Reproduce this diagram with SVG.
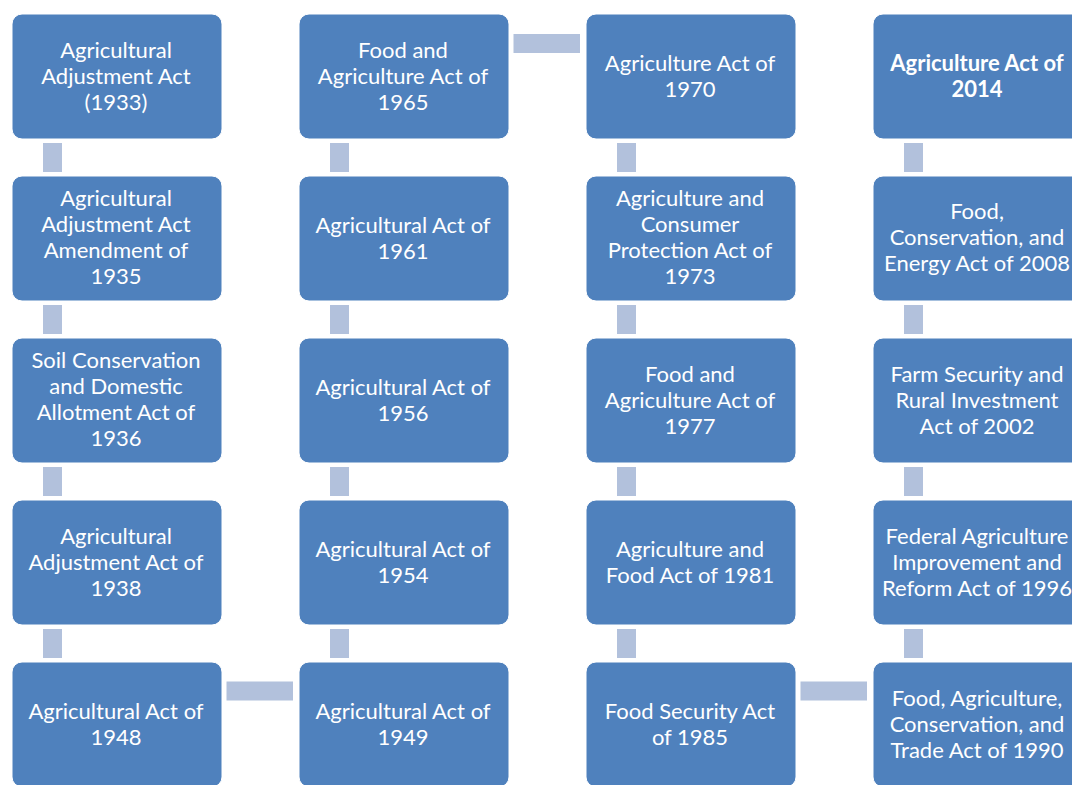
<svg xmlns="http://www.w3.org/2000/svg" width="1072" height="785" viewBox="0 0 1072 785">
<style>
.box{fill:#4F81BD;stroke:#FFFFFF;stroke-width:1}
.con{fill:#B2C1DC}
text{font-family:Lato,"Liberation Sans",sans-serif;font-size:22px;fill:#FFFFFF;text-anchor:middle}
.b{font-weight:bold}
</style>
<rect width="1072" height="785" fill="#FFFFFF"/>
<g id="connectors">
<rect class="con" x="43" y="143" width="19" height="29"/>
<rect class="con" x="43" y="305" width="19" height="29"/>
<rect class="con" x="43" y="467" width="19" height="29"/>
<rect class="con" x="43" y="629" width="19" height="29"/>
<rect class="con" x="330" y="143" width="19" height="29"/>
<rect class="con" x="330" y="305" width="19" height="29"/>
<rect class="con" x="330" y="467" width="19" height="29"/>
<rect class="con" x="330" y="629" width="19" height="29"/>
<rect class="con" x="617" y="143" width="19" height="29"/>
<rect class="con" x="617" y="305" width="19" height="29"/>
<rect class="con" x="617" y="467" width="19" height="29"/>
<rect class="con" x="617" y="629" width="19" height="29"/>
<rect class="con" x="904" y="143" width="19" height="29"/>
<rect class="con" x="904" y="305" width="19" height="29"/>
<rect class="con" x="904" y="467" width="19" height="29"/>
<rect class="con" x="904" y="629" width="19" height="29"/>
<rect class="con" x="226.5" y="681.5" width="66.5" height="19"/>
<rect class="con" x="513.5" y="34" width="66.5" height="19"/>
<rect class="con" x="800.5" y="681.5" width="66.5" height="19"/>
</g>
<g id="n1933"><rect class="box" x="12" y="14" width="210" height="125" rx="10"/><text x="116" y="58">Agricultural</text><text x="116" y="84">Adjustment Act</text><text x="116" y="110">(1933)</text></g>
<g id="n1935"><rect class="box" x="12" y="176" width="210" height="125" rx="10"/><text x="116" y="206">Agricultural</text><text x="116" y="232">Adjustment Act</text><text x="116" y="258">Amendment of</text><text x="116" y="284">1935</text></g>
<g id="n1936"><rect class="box" x="12" y="338" width="210" height="125" rx="10"/><text x="116" y="368">Soil Conservation</text><text x="116" y="394">and Domestic</text><text x="116" y="420">Allotment Act of</text><text x="116" y="446">1936</text></g>
<g id="n1938"><rect class="box" x="12" y="500" width="210" height="125" rx="10"/><text x="116" y="544">Agricultural</text><text x="116" y="570">Adjustment Act of</text><text x="116" y="596">1938</text></g>
<g id="n1948"><rect class="box" x="12" y="662" width="210" height="125" rx="10"/><text x="116" y="719">Agricultural Act of</text><text x="116" y="745">1948</text></g>
<g id="n1965"><rect class="box" x="299" y="14" width="210" height="125" rx="10"/><text x="403" y="58">Food and</text><text x="403" y="84">Agriculture Act of</text><text x="403" y="110">1965</text></g>
<g id="n1961"><rect class="box" x="299" y="176" width="210" height="125" rx="10"/><text x="403" y="233">Agricultural Act of</text><text x="403" y="259">1961</text></g>
<g id="n1956"><rect class="box" x="299" y="338" width="210" height="125" rx="10"/><text x="403" y="395">Agricultural Act of</text><text x="403" y="421">1956</text></g>
<g id="n1954"><rect class="box" x="299" y="500" width="210" height="125" rx="10"/><text x="403" y="557">Agricultural Act of</text><text x="403" y="583">1954</text></g>
<g id="n1949"><rect class="box" x="299" y="662" width="210" height="125" rx="10"/><text x="403" y="719">Agricultural Act of</text><text x="403" y="745">1949</text></g>
<g id="n1970"><rect class="box" x="586" y="14" width="210" height="125" rx="10"/><text x="690" y="71">Agriculture Act of</text><text x="690" y="97">1970</text></g>
<g id="n1973"><rect class="box" x="586" y="176" width="210" height="125" rx="10"/><text x="690" y="206">Agriculture and</text><text x="690" y="232">Consumer</text><text x="690" y="258">Protection Act of</text><text x="690" y="284">1973</text></g>
<g id="n1977"><rect class="box" x="586" y="338" width="210" height="125" rx="10"/><text x="690" y="382">Food and</text><text x="690" y="408">Agriculture Act of</text><text x="690" y="434">1977</text></g>
<g id="n1981"><rect class="box" x="586" y="500" width="210" height="125" rx="10"/><text x="690" y="557">Agriculture and</text><text x="690" y="583">Food Act of 1981</text></g>
<g id="n1985"><rect class="box" x="586" y="662" width="210" height="125" rx="10"/><text x="690" y="719">Food Security Act</text><text x="690" y="745">of 1985</text></g>
<g id="n2014"><rect class="box" x="873" y="14" width="210" height="125" rx="10"/><text class="b" x="977" y="71">Agriculture Act of</text><text class="b" x="977" y="97">2014</text></g>
<g id="n2008"><rect class="box" x="873" y="176" width="210" height="125" rx="10"/><text x="977" y="219">Food,</text><text x="977" y="245">Conservation, and</text><text x="977" y="271">Energy Act of 2008</text></g>
<g id="n2002"><rect class="box" x="873" y="338" width="210" height="125" rx="10"/><text x="977" y="382">Farm Security and</text><text x="977" y="408">Rural Investment</text><text x="977" y="434">Act of 2002</text></g>
<g id="n1996"><rect class="box" x="873" y="500" width="210" height="125" rx="10"/><text x="977" y="544">Federal Agriculture</text><text x="977" y="570">Improvement and</text><text x="977" y="596">Reform Act of 1996</text></g>
<g id="n1990"><rect class="box" x="873" y="662" width="210" height="125" rx="10"/><text x="977" y="706">Food, Agriculture,</text><text x="977" y="732">Conservation, and</text><text x="977" y="758">Trade Act of 1990</text></g>
</svg>
